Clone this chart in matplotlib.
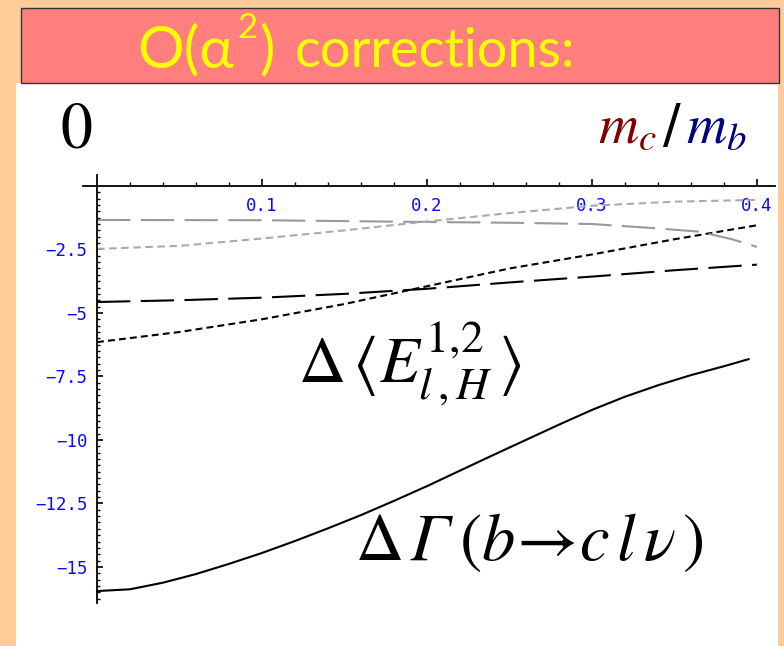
import matplotlib.pyplot as plt
from matplotlib.patches import Rectangle
from matplotlib.ticker import FixedLocator, FixedFormatter

plt.rcParams["mathtext.fontset"] = "stix"

W, H = 784, 646  # taille de la diapo en pixels (dpi = 100)

# Corrections O(alpha^2) en fonction de m_c/m_b
r_gamma = [0.0, 0.02, 0.04, 0.06, 0.08, 0.10, 0.12, 0.14, 0.16, 0.18, 0.20,
           0.22, 0.24, 0.26, 0.28, 0.30, 0.32, 0.34, 0.36, 0.38, 0.395]
d_gamma = [-15.95, -15.88, -15.62, -15.28, -14.88, -14.45, -13.98, -13.48,
           -12.96, -12.4, -11.82, -11.21, -10.6, -10.0, -9.4, -8.82, -8.3,
           -7.85, -7.45, -7.1, -6.82]

r_e = [0.0, 0.05, 0.10, 0.15, 0.20, 0.25, 0.30, 0.35, 0.40]
d_e_dot = [-6.15, -5.75, -5.25, -4.65, -3.95, -3.25, -2.7, -2.1, -1.55]
d_e_long = [-4.57, -4.5, -4.4, -4.25, -4.05, -3.8, -3.57, -3.32, -3.1]
d_g_short = [-2.48, -2.36, -2.07, -1.75, -1.4, -1.07, -0.78, -0.62, -0.55]

r_g_long = [0.0, 0.10, 0.20, 0.25, 0.30, 0.335, 0.365, 0.385, 0.40]
d_g_long = [-1.34, -1.35, -1.42, -1.45, -1.5, -1.65, -1.8, -2.1, -2.4]

x_major = [0.1, 0.2, 0.3, 0.4]
x_labels = ["0.1", "0.2", "0.3", "0.4"]
y_major = [-2.5, -5, -7.5, -10, -12.5, -15]
y_labels = ["\u22122.5", "\u22125", "\u22127.5", "\u221210", "\u221212.5", "\u221215"]


def fig_xy(px, py):
    """Pixels (origine en haut à gauche) -> coordonnées figure."""
    return px / W, 1 - py / H


def chain(px, py, pieces):
    """Écrit des morceaux de texte bout à bout sur une même ligne de base."""
    renderer = fig.canvas.get_renderer()
    for text, gap, rise, kw in pieces:
        t = fig.text(*fig_xy(px + gap, py - rise), text,
                     ha="left", va="baseline", **kw)
        px = t.get_window_extent(renderer).x1


fig = plt.figure(figsize=(W / 100, H / 100), dpi=100)
fig.patch.set_facecolor("#ffcc99")

# fond blanc et bandeau de titre
x0, y0 = fig_xy(16, 646)
fig.patches.append(Rectangle((x0, y0), (778 - 16) / W, (646 - 83) / H,
                             transform=fig.transFigure, facecolor="white",
                             edgecolor="none", zorder=-2))
x0, y0 = fig_xy(21, 83)
fig.patches.append(Rectangle((x0, y0), (779 - 21) / W, (83 - 8) / H,
                             transform=fig.transFigure, facecolor="#ff7f7f",
                             edgecolor="#333333", lw=1.0, zorder=-1))
title_kw = dict(color="#ffff00", family=["Lato", "DejaVu Sans"])
chain(137, 67, [
    ("O(α", 0, 0, dict(fontsize=42, **title_kw)),
    ("2", 3, 29, dict(fontsize=25, **title_kw)),
    (")", 2, 0, dict(fontsize=42, **title_kw)),
    ("corrections:", 20, 0, dict(fontsize=39, **title_kw)),
])

# axes à la Mathematica : axe des x en haut (y = 0), axe des y en x = 0
left, bottom = fig_xy(83, 603)
ax = fig.add_axes([left, bottom, (775 - 83) / W, (603 - 175) / H])
ax.set_zorder(3)
ax.patch.set_alpha(0)
ax.set_xlim(-0.0085, 0.411)
ax.set_ylim(-16.42, 0.43)

ax.plot(r_gamma, d_gamma, color="black", lw=1.5)
ax.plot(r_e, d_e_dot, color="black", lw=1.5, dashes=(3.3, 2.0))
ax.plot(r_e, d_e_long, color="black", lw=1.5, dashes=(16, 5))
ax.plot(r_g_long, d_g_long, color="#999999", lw=1.5, dashes=(16, 5))
ax.plot(r_e, d_g_short, color="#aaaaaa", lw=1.5, dashes=(3.6, 2.2))

for side in ("right", "bottom"):
    ax.spines[side].set_visible(False)
ax.spines["top"].set_position(("data", 0))
ax.spines["left"].set_position(("data", 0))
for side in ("top", "left"):
    ax.spines[side].set_linewidth(1.3)

ax.xaxis.set_ticks_position("top")
ax.xaxis.set_major_locator(FixedLocator(x_major))
ax.xaxis.set_major_formatter(FixedFormatter(x_labels))
ax.xaxis.set_minor_locator(FixedLocator(
    [i * 0.02 for i in range(1, 21) if i % 5]))
ax.tick_params(axis="x", which="major", direction="out", length=5, width=1.2,
               labelsize=12.5, labelcolor="#0a0aff", pad=-26)
ax.tick_params(axis="x", which="minor", direction="out", length=3, width=1.0)

ax.yaxis.set_major_locator(FixedLocator(y_major))
ax.yaxis.set_major_formatter(FixedFormatter(y_labels))
ax.yaxis.set_minor_locator(FixedLocator(
    [-0.25 * i for i in range(1, 66) if i % 10]))
ax.tick_params(axis="y", which="major", direction="in", length=4.5, width=1.2,
               labelsize=12.5, labelcolor="#0a0aff", pad=7)
ax.tick_params(axis="y", which="minor", direction="in", length=2.5, width=1.0)
for lab in ax.get_xticklabels() + ax.get_yticklabels():
    lab.set_family("DejaVu Sans Mono")

# annotations
fig.text(*fig_xy(76, 148), "0", fontsize=46, family="STIXGeneral",
         ha="center", va="baseline")
fig.text(*fig_xy(598, 142), r"$m_c$", fontsize=40, color="#800000",
         ha="left", va="baseline")
fig.text(*fig_xy(663, 142), "/", fontsize=38, color="black",
         family="DejaVu Sans", ha="left", va="baseline")
fig.text(*fig_xy(686, 142), r"$m_b$", fontsize=40, color="#000080",
         ha="left", va="baseline")
fig.text(*fig_xy(298, 382), r"$\Delta\,\langle E^{1{,}2}_{l\,,H}\,\rangle$",
         fontsize=47, ha="left", va="baseline")
chain(355, 560, [
    (r"$\Delta$", 0, 0, dict(fontsize=48)),
    ("Γ", 8, 0, dict(fontsize=48, family="STIXGeneral", style="italic")),
    (r"$(b\!\rightarrow\!c\,l\,\nu\,)$", 8, 0, dict(fontsize=48)),
])

fig.savefig("out.png", dpi=100, facecolor=fig.get_facecolor())
